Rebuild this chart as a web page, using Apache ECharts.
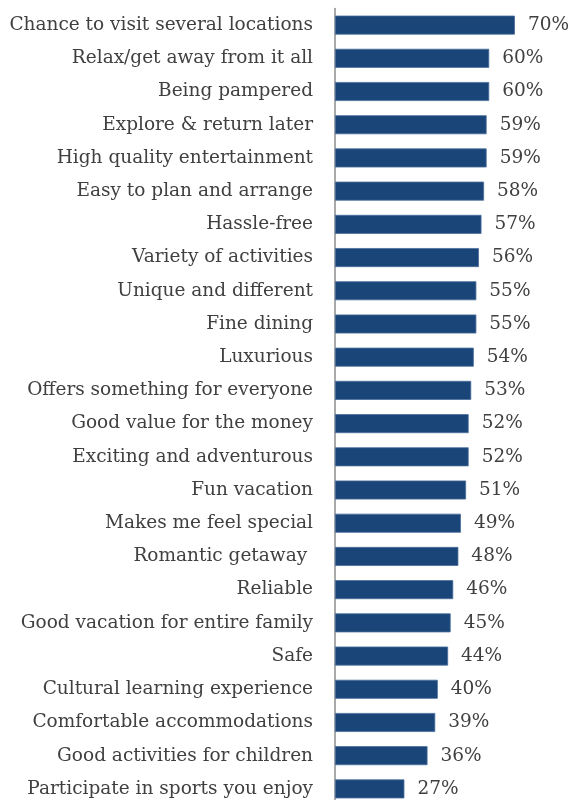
<!DOCTYPE html>
<html><head><meta charset="utf-8">
<script src="https://cdn.jsdelivr.net/npm/echarts@6/dist/echarts.min.js"></script>
<style>html,body{margin:0;padding:0;background:#fff}#c{width:582px;height:800px}</style>
</head><body><div id="c"></div>
<script>
const categories = [
  "Chance to visit several locations","Relax/get away from it all","Being pampered","Explore & return later",
  "High quality entertainment","Easy to plan and arrange","Hassle-free","Variety of activities",
  "Unique and different","Fine dining","Luxurious","Offers something for everyone",
  "Good value for the money","Exciting and adventurous","Fun vacation","Makes me feel special",
  "Romantic getaway ","Reliable","Good vacation for entire family","Safe",
  "Cultural learning experience","Comfortable accommodations","Good activities for children","Participate in sports you enjoy"
];
const values = [70,60,60,59,59,58,57,56,55,55,54,53,52,52,51,49,48,46,45,44,40,39,36,27];

const chart = echarts.init(document.getElementById('c'), null, {renderer:'canvas'});
const font = '"DejaVu Serif", "Liberation Serif", serif';
chart.setOption({
  animation:false,
  grid:{left:335, top:8.5, width:257, height:797, containLabel:false, outerBoundsMode:'none'},
  xAxis:{type:'value', min:0, max:100, show:false},
  yAxis:{type:'category', data:categories, inverse:true,
    axisLine:{show:true, lineStyle:{color:'#8c8c8c', width:1.5}},
    axisTick:{show:false},
    axisLabel:{color:'#404040', fontFamily:font, fontSize:18.5, margin:22}},
  series:[{type:'bar', data:values, barWidth:19,
    itemStyle:{color:'#1a4578', borderColor:'#4a6f9c', borderWidth:0.8},
    label:{show:true, position:'right', distance:13, formatter:'{c}%', color:'#404040', fontFamily:font, fontSize:18.5}}]
});
</script></body></html>
